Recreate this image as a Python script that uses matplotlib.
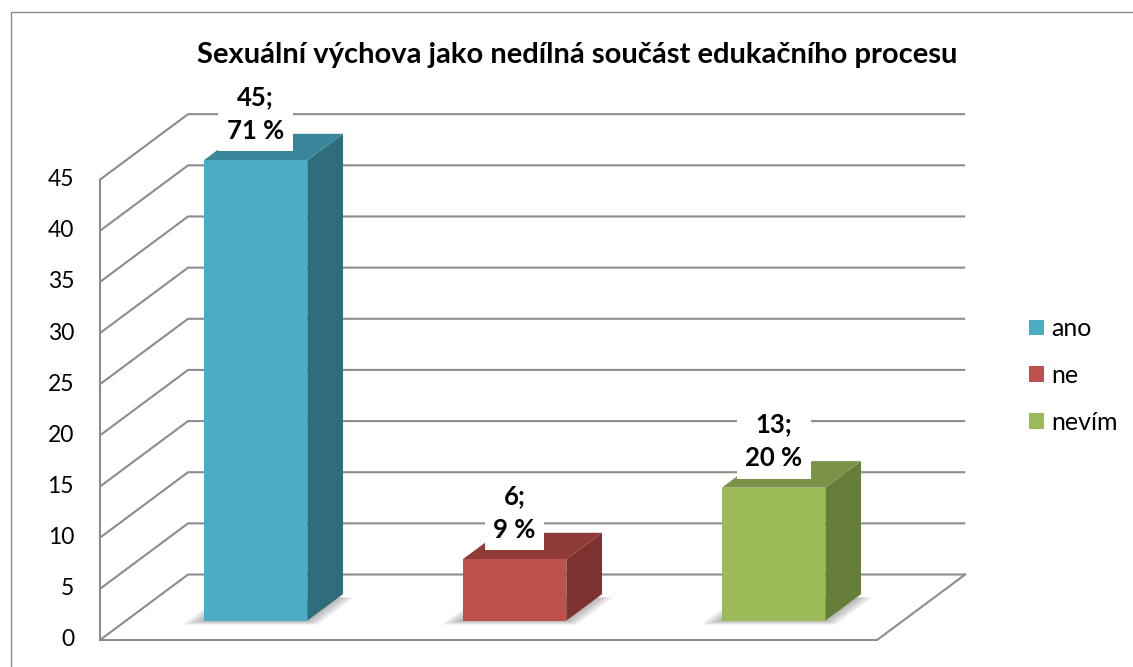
import matplotlib
matplotlib.use("Agg")
import matplotlib.pyplot as plt
from matplotlib.patches import Polygon, Patch
from matplotlib.lines import Line2D

categories = ["ano", "ne", "nevím"]
counts = [45, 6, 13]
percents = [71, 9, 20]
y_ticks = [0, 5, 10, 15, 20, 25, 30, 35, 40, 45]
title = "Sexuální výchova jako nedílná součást edukačního procesu"

face_colors = ["#4BACC6", "#C0504D", "#9BBB59"]
top_colors = ["#3A879C", "#913B39", "#7A9346"]
side_colors = ["#306D7C", "#7D3230", "#677E3A"]
GRID = "#8c8c8c"

# oblique "3d" look: going back in depth moves right by DX (categories) and up by DY (values)
DX = 0.34
DY = 6.4
BAR_W = 0.40
T_FRONT = 0.295
T_BACK = 0.70

plt.rcParams["font.family"] = ["Lato", "DejaVu Sans"]

fig = plt.figure(figsize=(11.33, 6.67), dpi=100)
ax = fig.add_axes([0, 0, 1, 1])
ax.set_xlim(-0.386, 3.988)
ax.set_ylim(-2.64, 62.56)
ax.axis("off")


def shift(x, y, t):
    return (x + t * DX, y + t * DY)


n = len(categories)
ymax = y_ticks[-1]

# side wall + back wall gridlines
for v in y_ticks:
    ax.plot([0, DX, n + DX], [v, v + DY, v + DY], color=GRID, lw=1.5, zorder=1,
            solid_capstyle="butt")
    ax.text(-0.1, v, str(v), ha="right", va="center", fontsize=16.5, color="black")
ax.plot([0, 0], [0, ymax], color=GRID, lw=1.5, zorder=1)
# floor
ax.plot([0, n, n + DX], [0, 0, DY], color=GRID, lw=1.5, zorder=1)

for i, (v, p) in enumerate(zip(counts, percents)):
    x0 = i + (1 - BAR_W) / 2
    x1 = x0 + BAR_W

    # soft shadow on the floor, a bit wider than the bar footprint
    for k in range(5):
        e = 0.012 * (k + 1)
        tf = T_FRONT - 0.012 * (k + 1)
        shadow = [shift(x0 - e, 0, tf), shift(x1 + e, 0, tf),
                  shift(x1 + e, 0, T_BACK - 0.05), shift(x0 - e, 0, T_BACK - 0.05)]
        ax.add_patch(Polygon(shadow, closed=True, fc="#505050", ec="none",
                             alpha=0.09, zorder=2))

    front = [shift(x0, 0, T_FRONT), shift(x1, 0, T_FRONT),
             shift(x1, v, T_FRONT), shift(x0, v, T_FRONT)]
    side = [shift(x1, 0, T_FRONT), shift(x1, 0, T_BACK),
            shift(x1, v, T_BACK), shift(x1, v, T_FRONT)]
    roof = [shift(x0, v, T_FRONT), shift(x1, v, T_FRONT),
            shift(x1, v, T_BACK), shift(x0, v, T_BACK)]
    ax.add_patch(Polygon(side, closed=True, fc=side_colors[i], ec="none", zorder=3))
    ax.add_patch(Polygon(roof, closed=True, fc=top_colors[i], ec="none", zorder=3))
    ax.add_patch(Polygon(front, closed=True, fc=face_colors[i], ec="none", zorder=4))

    cx, cy = shift((x0 + x1) / 2, v, T_FRONT)
    ax.text(cx, cy + 1.7, f"{v};\n{p} %", ha="center", va="bottom",
            fontsize=18.5, fontweight="bold", linespacing=1.5, zorder=6,
            bbox=dict(boxstyle="square,pad=0.33", fc="white", ec="none"))

fig.text(577 / 1133, 1 - 55 / 667, title, ha="center", va="center",
         fontsize=21, fontweight="bold")

handles = [Patch(facecolor=c, edgecolor="none") for c in face_colors]
fig.legend(handles, categories, loc="center left",
           bbox_to_anchor=(1029 / 1133, 1 - 375.5 / 667), frameon=False,
           fontsize=18, handlelength=0.6, handleheight=0.6,
           handletextpad=0.3, labelspacing=0.95, borderpad=0, borderaxespad=0)

# chart frame (only left and top edges are inside the picture)
fig.add_artist(Line2D([11 / 1133, 11 / 1133, 1], [0, 1 - 12 / 667, 1 - 12 / 667],
                      transform=fig.transFigure, color="#8a8a8a", lw=1.0))

fig.savefig("out.png", dpi=100)
